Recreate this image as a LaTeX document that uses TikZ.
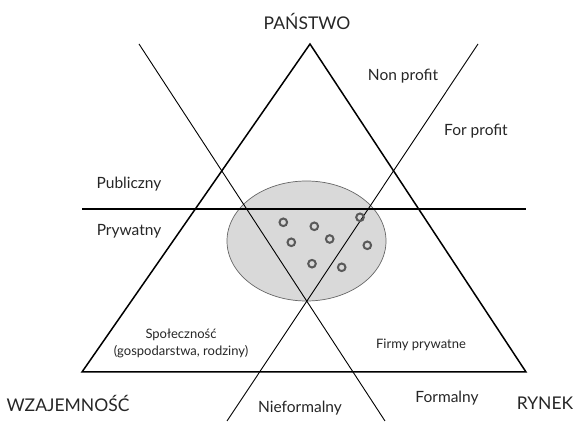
\documentclass[tikz,border=0pt]{standalone}
\usepackage{fontspec}
\setmainfont{Lato}
\usetikzlibrary{shapes.geometric}
\begin{document}
\begin{tikzpicture}[x=1pt,y=-1pt,
  tri/.style={line width=1.5pt,line join=miter},
  divline/.style={line width=0.9pt},
  hline/.style={line width=1.1pt},
  lbl/.style={font=\fontsize{15.5}{18}\selectfont,inner sep=0pt,text=black!85},
  corner/.style={font=\fontsize{17.5}{20}\selectfont,inner sep=0pt,text=black!85},
  small/.style={font=\fontsize{13}{17}\selectfont,inner sep=0pt,align=center,text=black!85},
  ring/.style={draw=black!65,line width=2pt,fill=none}]
\useasboundingbox (0,0) rectangle (574,427);
% ellipse
\node[draw=black!60,fill=black!15,line width=0.7pt,ellipse,minimum width=159pt,minimum height=120pt,inner sep=0pt] (ell) at (306.5,241) {};
% triangle
\coordinate (T) at (310,44);
\coordinate (L) at (82,372);
\coordinate (R) at (526,372);
\draw[tri] (T) -- (R) -- (L) -- cycle;
% dividing lines
\coordinate (a1) at (139,44);
\coordinate (a2) at (385,421);
\coordinate (b1) at (478,44);
\coordinate (b2) at (227,421);
\draw[divline] (a1) -- (a2);
\draw[divline] (b1) -- (b2);
\coordinate (h1) at (82,209);
\coordinate (h2) at (526,209);
\draw[hline] (h1) -- (h2);
% rings
\foreach \i/\p in {1/{(283.3,222.3)},2/{(314.3,226.3)},3/{(360,217.3)},4/{(291.3,242.3)},5/{(329.7,239)},6/{(367.3,245.3)},7/{(312,263.7)},8/{(341.7,267.3)}}
  \draw[ring] \p circle[radius=3.8pt];
% labels
\node[corner] (pan) at (307,21) {PAŃSTWO};
\node[corner] (wza) at (68,403) {WZAJEMNOŚĆ};
\node[corner] (ryn) at (545,403) {RYNEK};
\node[lbl] (np) at (403,76) {Non profit};
\node[lbl] (fp) at (476,131) {For profit};
\node[lbl] (pub) at (129,184) {Publiczny};
\node[lbl] (pry) at (129,231) {Prywatny};
\node[lbl] (nief) at (300,408) {Nieformalny};
\node[lbl] (form) at (447,398) {Formalny};
\node[small] (spol) at (181,343) {Społeczność\\(gospodarstwa, rodziny)};
\node[small] (firm) at (421,345) {Firmy prywatne};
\end{tikzpicture}
\end{document}
